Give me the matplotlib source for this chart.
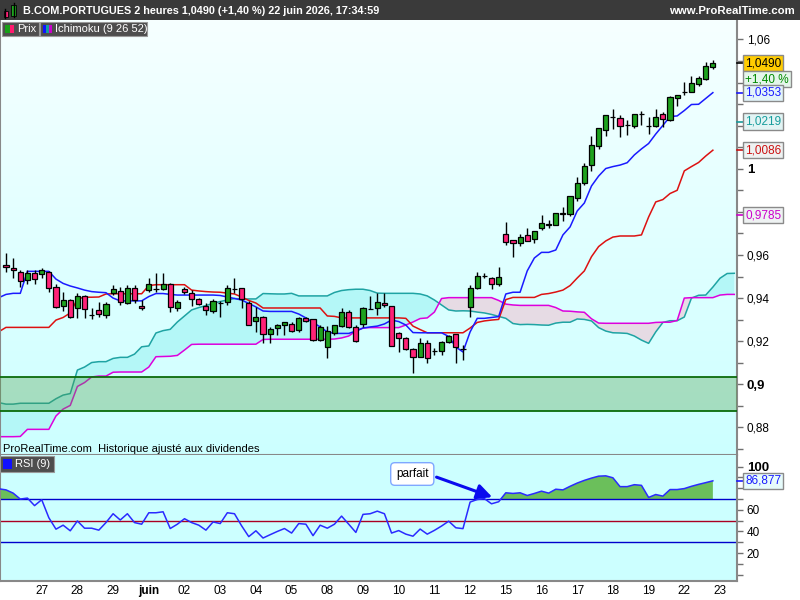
import numpy as np
import matplotlib
matplotlib.use("Agg")
import matplotlib.pyplot as plt
from matplotlib.patches import Rectangle
from matplotlib.lines import Line2D
import matplotlib.transforms as mtrans
from matplotlib.ticker import FixedLocator, FixedFormatter

plt.rcParams['font.family'] = ['Liberation Sans', 'DejaVu Sans']

# ---------------- data ----------------
title = "B.COM.PORTUGUES 2 heures 1,0490 (+1,40 %) 22 juin 2026, 17:34:59"
site = "www.ProRealTime.com"
footer = "ProRealTime.com  Historique ajusté aux dividendes"

day_labels = ['27', '28', '29', 'juin', '02', '03', '04', '05', '08', '09',
              '10', '11', '12', '15', '16', '17', '18', '19', '22', '23']
day_first_candle = [5, 10, 15, 20, 25, 30, 35, 40, 45, 50,
                    55, 60, 65, 70, 75, 80, 85, 90, 95, 100]

opens = [0.9553, 0.9538, 0.9522, 0.9484, 0.9518, 0.9510, 0.9522, 0.9453, 0.9365, 0.9391,
         0.9352, 0.9411, 0.9322, 0.9345, 0.9321, 0.9425, 0.9434, 0.9378, 0.9445, 0.9365,
         0.9437, 0.9441, 0.9441, 0.9464, 0.9352, 0.9442, 0.9422, 0.9394, 0.9365, 0.9341,
         0.9376, 0.9380, 0.9442, 0.9445, 0.9376, 0.9295, 0.9314, 0.9233, 0.9262, 0.9274,
         0.9278, 0.9252, 0.9306, 0.9301, 0.9205, 0.9172, 0.9236, 0.9272, 0.9334, 0.9267,
         0.9278, 0.9349, 0.9352, 0.9376, 0.9363, 0.9236, 0.9213, 0.9162, 0.9128, 0.9190,
         0.9155, 0.9156, 0.9195, 0.9233, 0.9163, 0.9360, 0.9445, 0.9501, 0.9494, 0.9464,
         0.9696, 0.9669, 0.9654, 0.9693, 0.9673, 0.9724, 0.9741, 0.9739, 0.9792, 0.9789,
         0.9863, 0.9932, 1.0017, 1.0107, 1.0180, 1.0240, 1.0237, 1.0202, 1.0198, 1.0252,
         1.0197, 1.0198, 1.0253, 1.0226, 1.0327, 1.0357, 1.0358, 1.0392, 1.0415, 1.0474]
highs = [0.9609, 0.9587, 0.9530, 0.9530, 0.9530, 0.9539, 0.9526, 0.9465, 0.9430, 0.9396,
         0.9425, 0.9414, 0.9355, 0.9382, 0.9383, 0.9461, 0.9453, 0.9461, 0.9461, 0.9391,
         0.9492, 0.9515, 0.9518, 0.9468, 0.9391, 0.9453, 0.9437, 0.9400, 0.9376, 0.9394,
         0.9386, 0.9461, 0.9492, 0.9446, 0.9388, 0.9360, 0.9317, 0.9267, 0.9280, 0.9291,
         0.9290, 0.9314, 0.9314, 0.9302, 0.9275, 0.9270, 0.9276, 0.9352, 0.9345, 0.9275,
         0.9360, 0.9410, 0.9422, 0.9422, 0.9364, 0.9244, 0.9221, 0.9167, 0.9213, 0.9205,
         0.9170, 0.9201, 0.9229, 0.9234, 0.9182, 0.9461, 0.9522, 0.9515, 0.9499, 0.9543,
         0.9754, 0.9669, 0.9697, 0.9724, 0.9712, 0.9785, 0.9762, 0.9794, 0.9824, 0.9875,
         0.9963, 1.0025, 1.0152, 1.0189, 1.0250, 1.0276, 1.0249, 1.0226, 1.0254, 1.0268,
         1.0241, 1.0276, 1.0265, 1.0338, 1.0343, 1.0404, 1.0430, 1.0432, 1.0497, 1.0505]
lows = [0.9521, 0.9494, 0.9453, 0.9464, 0.9465, 0.9493, 0.9430, 0.9354, 0.9340, 0.9307,
        0.9309, 0.9306, 0.9303, 0.9314, 0.9309, 0.9414, 0.9368, 0.9371, 0.9376, 0.9345,
        0.9430, 0.9430, 0.9437, 0.9337, 0.9340, 0.9417, 0.9365, 0.9368, 0.9321, 0.9332,
        0.9311, 0.9368, 0.9422, 0.9352, 0.9274, 0.9244, 0.9190, 0.9190, 0.9229, 0.9229,
        0.9244, 0.9244, 0.9290, 0.9203, 0.9203, 0.9121, 0.9229, 0.9267, 0.9260, 0.9198,
        0.9267, 0.9348, 0.9321, 0.9357, 0.9178, 0.9151, 0.9159, 0.9054, 0.9128, 0.9097,
        0.9136, 0.9136, 0.9190, 0.9100, 0.9113, 0.9314, 0.9441, 0.9492, 0.9441, 0.9456,
        0.9646, 0.9589, 0.9643, 0.9666, 0.9657, 0.9716, 0.9724, 0.9738, 0.9759, 0.9782,
        0.9852, 0.9925, 0.9991, 1.0090, 1.0153, 1.0184, 1.0149, 1.0157, 1.0190, 1.0203,
        1.0161, 1.0195, 1.0195, 1.0223, 1.0291, 1.0342, 1.0355, 1.0385, 1.0412, 1.0463]
closes = [0.9544, 0.9529, 0.9479, 0.9518, 0.9487, 0.9530, 0.9448, 0.9360, 0.9391, 0.9314,
          0.9411, 0.9349, 0.9321, 0.9325, 0.9371, 0.9441, 0.9383, 0.9448, 0.9391, 0.9352,
          0.9464, 0.9440, 0.9464, 0.9359, 0.9380, 0.9427, 0.9394, 0.9371, 0.9345, 0.9388,
          0.9375, 0.9445, 0.9441, 0.9394, 0.9275, 0.9314, 0.9233, 0.9255, 0.9274, 0.9290,
          0.9249, 0.9306, 0.9295, 0.9205, 0.9267, 0.9249, 0.9275, 0.9334, 0.9267, 0.9201,
          0.9352, 0.9350, 0.9380, 0.9366, 0.9179, 0.9213, 0.9162, 0.9128, 0.9190, 0.9123,
          0.9156, 0.9195, 0.9224, 0.9172, 0.9164, 0.9445, 0.9502, 0.9502, 0.9464, 0.9496,
          0.9659, 0.9654, 0.9685, 0.9666, 0.9711, 0.9747, 0.9742, 0.9793, 0.9793, 0.9874,
          0.9932, 1.0014, 1.0110, 1.0188, 1.0249, 1.0241, 1.0198, 1.0203, 1.0253, 1.0253,
          1.0198, 1.0239, 1.0229, 1.0332, 1.0342, 1.0358, 1.0396, 1.0420, 1.0477, 1.0490]

# Ichimoku lines, first value is one period before the first candle
tenkan = [0.9402, 0.9417, 0.9422, 0.9422, 0.9524, 0.9524, 0.9524, 0.9524, 0.9488, 0.9468,
          0.9456, 0.9447, 0.9437, 0.9430, 0.9427, 0.9425, 0.9400, 0.9387, 0.9387, 0.9387,
          0.9387, 0.9407, 0.9421, 0.9421, 0.9417, 0.9414, 0.9414, 0.9414, 0.9414, 0.9414,
          0.9414, 0.9412, 0.9405, 0.9398, 0.9391, 0.9375, 0.9359, 0.9340, 0.9338, 0.9338,
          0.9338, 0.9338, 0.9326, 0.9308, 0.9287, 0.9266, 0.9243, 0.9236, 0.9236, 0.9236,
          0.9247, 0.9261, 0.9266, 0.9270, 0.9280, 0.9298, 0.9291, 0.9275, 0.9240, 0.9239,
          0.9239, 0.9239, 0.9239, 0.9222, 0.9173, 0.9150, 0.9243, 0.9306, 0.9306, 0.9310,
          0.9314, 0.9419, 0.9427, 0.9427, 0.9526, 0.9586, 0.9612, 0.9612, 0.9623, 0.9693,
          0.9730, 0.9804, 0.9841, 0.9920, 0.9966, 1.0001, 1.0010, 1.0017, 1.0028, 1.0064,
          1.0092, 1.0117, 1.0161, 1.0201, 1.0242, 1.0245, 1.0270, 1.0298, 1.0299, 1.0326,
          1.0353]
kijun = [0.9244, 0.9264, 0.9264, 0.9264, 0.9264, 0.9264, 0.9264, 0.9264, 0.9298, 0.9310,
         0.9331, 0.9396, 0.9404, 0.9404, 0.9405, 0.9419, 0.9420, 0.9420, 0.9420, 0.9420,
         0.9420, 0.9458, 0.9462, 0.9462, 0.9462, 0.9462, 0.9462, 0.9437, 0.9433, 0.9430,
         0.9428, 0.9427, 0.9423, 0.9419, 0.9405, 0.9389, 0.9377, 0.9354, 0.9354, 0.9354,
         0.9354, 0.9354, 0.9354, 0.9354, 0.9354, 0.9354, 0.9317, 0.9315, 0.9308, 0.9308,
         0.9308, 0.9308, 0.9308, 0.9308, 0.9308, 0.9308, 0.9308, 0.9306, 0.9270, 0.9254,
         0.9239, 0.9239, 0.9239, 0.9239, 0.9239, 0.9239, 0.9261, 0.9287, 0.9294, 0.9298,
         0.9301, 0.9393, 0.9403, 0.9403, 0.9403, 0.9403, 0.9417, 0.9421, 0.9428, 0.9437,
         0.9458, 0.9493, 0.9526, 0.9592, 0.9639, 0.9665, 0.9683, 0.9688, 0.9688, 0.9688,
         0.9693, 0.9776, 0.9846, 0.9857, 0.9885, 0.9900, 0.9990, 1.0010, 1.0029, 1.0059,
         1.0086]
# Senkou spans (already shifted forward), first value one period before the first candle
senkou_a = [0.8915, 0.8908, 0.8908, 0.8912, 0.8912, 0.8912, 0.8912, 0.8912, 0.8933, 0.8950,
            0.8957, 0.9066, 0.9080, 0.9101, 0.9105, 0.9105, 0.9120, 0.9125, 0.9125, 0.9140,
            0.9174, 0.9178, 0.9238, 0.9249, 0.9255, 0.9289, 0.9317, 0.9345, 0.9356, 0.9365,
            0.9376, 0.9384, 0.9391, 0.9398, 0.9396, 0.9396, 0.9396, 0.9421, 0.9420, 0.9419,
            0.9419, 0.9422, 0.9410, 0.9410, 0.9410, 0.9410, 0.9410, 0.9426, 0.9435, 0.9439,
            0.9441, 0.9441, 0.9435, 0.9423, 0.9422, 0.9422, 0.9422, 0.9422, 0.9422, 0.9419,
            0.9410, 0.9391, 0.9368, 0.9345, 0.9340, 0.9341, 0.9340, 0.9335, 0.9331, 0.9324,
            0.9315, 0.9306, 0.9282, 0.9277, 0.9278, 0.9277, 0.9275, 0.9274, 0.9284, 0.9288,
            0.9288, 0.9303, 0.9301, 0.9294, 0.9263, 0.9247, 0.9239, 0.9238, 0.9236, 0.9224,
            0.9205, 0.9190, 0.9243, 0.9287, 0.9295, 0.9295, 0.9312, 0.9400, 0.9413, 0.9414,
            0.9451, 0.9492, 0.9514, 0.9515]
senkou_b = [0.8757, 0.8757, 0.8757, 0.8758, 0.8791, 0.8791, 0.8791, 0.8791, 0.8853, 0.8885,
            0.8902, 0.8990, 0.9008, 0.9034, 0.9038, 0.9038, 0.9056, 0.9057, 0.9057, 0.9057,
            0.9057, 0.9080, 0.9128, 0.9129, 0.9130, 0.9134, 0.9159, 0.9185, 0.9186, 0.9186,
            0.9186, 0.9186, 0.9186, 0.9186, 0.9186, 0.9186, 0.9186, 0.9208, 0.9209, 0.9209,
            0.9209, 0.9209, 0.9209, 0.9209, 0.9209, 0.9209, 0.9209, 0.9210, 0.9215, 0.9224,
            0.9247, 0.9261, 0.9263, 0.9263, 0.9263, 0.9263, 0.9263, 0.9275, 0.9289, 0.9305,
            0.9308, 0.9335, 0.9398, 0.9402, 0.9402, 0.9402, 0.9402, 0.9402, 0.9402, 0.9402,
            0.9389, 0.9372, 0.9368, 0.9366, 0.9366, 0.9366, 0.9366, 0.9366, 0.9356, 0.9340,
            0.9339, 0.9336, 0.9334, 0.9304, 0.9284, 0.9283, 0.9283, 0.9283, 0.9283, 0.9283,
            0.9283, 0.9283, 0.9287, 0.9288, 0.9288, 0.9296, 0.9400, 0.9402, 0.9402, 0.9402,
            0.9402, 0.9414, 0.9417, 0.9417]
# RSI(9), first value one period before the first candle
rsi = [79.5, 78.5, 75.5, 70.0, 70.9, 63.9, 69.4, 52.7, 42.1, 45.8,
       40.6, 49.7, 43.0, 43.0, 41.2, 48.2, 56.4, 50.6, 56.4, 48.2,
       46.7, 57.3, 57.3, 58.2, 42.7, 46.7, 51.8, 48.2, 45.8, 41.2,
       48.8, 47.3, 57.3, 56.4, 45.2, 35.2, 40.6, 33.9, 37.0, 40.0,
       42.7, 38.5, 47.3, 46.7, 36.1, 45.8, 43.0, 46.7, 54.2, 46.7,
       39.1, 55.8, 56.4, 58.8, 56.4, 38.5, 40.8, 37.5, 35.6, 42.2,
       37.5, 41.0, 45.0, 49.5, 43.4, 42.6, 67.2, 69.6, 70.4, 65.6,
       67.5, 75.8, 75.2, 75.8, 73.3, 75.2, 77.3, 75.5, 79.1, 78.5,
       81.8, 84.8, 87.3, 89.4, 91.2, 91.5, 89.7, 81.5, 81.5, 83.3,
       82.7, 71.5, 74.2, 72.7, 78.8, 78.8, 79.7, 81.8, 83.6, 85.2,
       86.877]

band_low, band_high = 0.8875, 0.9032
last_price = 1.0490
last_change = "+1,40 %"
tenkan_last, senkou_a_last, kijun_last, senkou_b_last = 1.0353, 1.0219, 1.0086, 0.9785
rsi_last = 86.877
rsi_levels = (70, 50, 30)

# labels hidden behind the value boxes are left empty
price_ticks = [0.88, 0.90, 0.92, 0.94, 0.96, 0.98, 1.00, 1.02, 1.04, 1.06]
price_tick_labels = ['0,88', '0,9', '0,92', '0,94', '0,96', '', '1', '', '', '1,06']
price_minor = [0.87, 0.89, 0.91, 0.93, 0.95, 0.97, 0.99, 1.01, 1.03, 1.05]
rsi_ticks = [20, 40, 60, 80, 100]
rsi_tick_labels = ['20', '40', '60', '', '100']
rsi_minor = [0, 10, 30, 50, 70, 90]

# ---------------- figure ----------------
W, H = 800, 600
fig = plt.figure(figsize=(8, 6), dpi=100, facecolor='white')


def fx(px):
    return px / W


def fy(py):
    return 1 - py / H


ax = fig.add_axes([0, fy(455), fx(737), (455 - 20) / H])
ax2 = fig.add_axes([0, fy(581), fx(737), (581 - 455) / H])

XMIN, XMAX = -0.84, 102.38

# backgrounds
g = np.linspace(0, 1, 256)[:, None]
top = np.array([0.965, 1.0, 1.0])
bot = np.array([0.80, 1.0, 1.0])
img = (top[None, None, :] * (1 - g[:, :, None]) + bot[None, None, :] * g[:, :, None])
ax.imshow(img, extent=[0, 1, 0, 1], transform=ax.transAxes, aspect='auto',
          zorder=0, interpolation='bilinear')
ax2.set_facecolor('#ccffff')

# cloud
xc = np.arange(len(senkou_a)) - 1
A = np.array(senkou_a)
B = np.array(senkou_b)
ax.fill_between(xc, A, B, where=A >= B, interpolate=True, color='#b4f7f7', lw=0, zorder=1)
ax.fill_between(xc, A, B, where=A < B, interpolate=True, color='#e6dbe4', lw=0, zorder=1)
ax.plot(xc, A, color='#1fa3a3', lw=1.1, zorder=2)
ax.plot(xc, B, color='#dd00dd', lw=1.1, zorder=2)

xl = np.arange(len(tenkan)) - 1
ax.plot(xl, kijun, color='#dd1111', lw=1.1, zorder=2)
ax.plot(xl, tenkan, color='#1a1aff', lw=1.1, zorder=2)

# horizontal zone
ax.axhspan(band_low, band_high, fc=(84 / 255, 158 / 255, 75 / 255, 0.35), ec='none', zorder=3)
ax.axhline(band_high, color='#0b6b0b', lw=1.3, zorder=3)
ax.axhline(band_low, color='#0b6b0b', lw=1.3, zorder=3)

# candles
bw = 0.72
for i, (o, h, l, c) in enumerate(zip(opens, highs, lows, closes)):
    ax.vlines(i, l, h, color='black', lw=1, zorder=5)
    col = '#1ea31e' if c >= o else '#ff2277'
    bottom = min(o, c)
    height = max(abs(c - o), 0.00006)
    ax.add_patch(Rectangle((i - bw / 2, bottom), bw, height, fc=col, ec='black',
                           lw=0.9, zorder=6))

ax.set_xlim(XMIN, XMAX)
ax.set_ylim(0.8672, 1.0690)

# price axis
ax.yaxis.tick_right()
ax.yaxis.set_major_locator(FixedLocator(price_ticks))
ax.yaxis.set_major_formatter(FixedFormatter(price_tick_labels))
ax.yaxis.set_minor_locator(FixedLocator(price_minor))
ax.tick_params(axis='y', which='both', direction='out', length=4, width=1,
               color='#707070', labelsize=8.5, pad=3)
ax.tick_params(axis='x', bottom=False, labelbottom=False)
for lab in ax.get_yticklabels():
    if lab.get_text() in ('1', '0,9'):
        lab.set_fontweight('bold')
        lab.set_fontsize(9.5)
ax.spines['top'].set_visible(False)
for s in ('left', 'right', 'bottom'):
    ax.spines[s].set_color('#888888')
    ax.spines[s].set_linewidth(1.5)

# RSI panel
xr = np.arange(len(rsi)) - 1
R = np.array(rsi)
ax2.fill_between(xr, R, rsi_levels[0], where=R >= rsi_levels[0], interpolate=True,
                 color='#6bbf5b', lw=0, zorder=1)
ax2.axhline(rsi_levels[0], color='#0000cc', lw=1, zorder=2)
ax2.axhline(rsi_levels[1], color='#aa0022', lw=1, zorder=2)
ax2.axhline(rsi_levels[2], color='#0000cc', lw=1, zorder=2)
ax2.plot(xr, R, color='#2a2aff', lw=1.1, zorder=3)
ax2.set_xlim(XMIN, XMAX)
ax2.set_ylim(-5.9, 110.8)
ax2.yaxis.tick_right()
ax2.yaxis.set_major_locator(FixedLocator(rsi_ticks))
ax2.yaxis.set_major_formatter(FixedFormatter(rsi_tick_labels))
ax2.yaxis.set_minor_locator(FixedLocator(rsi_minor))
ax2.tick_params(axis='y', which='both', direction='out', length=4, width=1,
                color='#707070', labelsize=8.5, pad=3)
for lab in ax2.get_yticklabels():
    if lab.get_text() == '100':
        lab.set_fontweight('bold')
        lab.set_fontsize(9.5)
ax2.set_xticks(day_first_candle)
ax2.set_xticklabels(day_labels)
ax2.tick_params(axis='x', length=0, labelsize=8.5, pad=3)
for lab in ax2.get_xticklabels():
    if lab.get_text() == 'juin':
        lab.set_fontweight('bold')
ax2.spines['top'].set_visible(False)
for s in ('left', 'right', 'bottom'):
    ax2.spines[s].set_color('#888888')
    ax2.spines[s].set_linewidth(1.5)

# annotation
ax2.text(56.9, 93.2, 'parfait', fontsize=8.5, ha='center', va='center', zorder=6,
         bbox=dict(boxstyle='round,pad=0.45,rounding_size=0.35', fc='white',
                   ec='#7fa8ff', lw=1))
ax2.annotate('', xy=(68.1, 71.8), xytext=(60.3, 90.3),
             arrowprops=dict(arrowstyle='-|>,head_length=0.9,head_width=0.45',
                             color='#0a0aee', lw=2.2, shrinkA=0, shrinkB=0),
             zorder=6)


# value boxes on the right axis
def value_box(axis, yval, text, tcolor, fcolor, dy=0.0, lead=True):
    trans = mtrans.blended_transform_factory(fig.transFigure, axis.transData)
    if lead:
        axis.add_line(Line2D([fx(737), fx(743)], [yval, yval], transform=trans,
                             color=tcolor, lw=1.2, clip_on=False, zorder=9))
    axis.annotate(text, xy=(fx(745), yval), xycoords=trans, xytext=(0, dy),
                  textcoords='offset points', ha='left', va='center', fontsize=8.5,
                  color=tcolor, annotation_clip=False, zorder=10,
                  bbox=dict(boxstyle='square,pad=0.18', fc=fcolor, ec='#8a8a8a', lw=1))


value_box(ax, last_price, '1,0490', 'black', '#ffcc00')
value_box(ax, last_price, last_change, '#008a00', '#e4f6ea', dy=-11.6, lead=False)
value_box(ax, tenkan_last, '1,0353', '#1a1aff', '#e2f4fa')
value_box(ax, senkou_a_last, '1,0219', '#169c9c', '#e2f4f4')
value_box(ax, kijun_last, '1,0086', '#cc1111', '#eef2f2')
value_box(ax, senkou_b_last, '0,9785', '#cc00cc', '#eef2f2')
value_box(ax2, rsi_last, '86,877', '#1a1aff', '#e6fbfb')

# header bar
fig.patches.append(Rectangle((0, fy(20)), 1, 20 / H, transform=fig.transFigure,
                             fc='#3a3a3a', ec='none', zorder=0))
fig.text(fx(23), fy(10.5), title, color='white', fontsize=7.8, fontweight='bold',
         va='center', ha='left')
fig.text(fx(795), fy(10.5), site, color='white', fontsize=8.2, fontweight='bold',
         va='center', ha='right')
# small candle icon
fig.lines.append(Line2D([fx(5.3), fx(5.3)], [fy(9), fy(18)], transform=fig.transFigure,
                        color='black', lw=1))
fig.patches.append(Rectangle((fx(3.5), fy(17)), fx(4), 6 / H, transform=fig.transFigure,
                             fc='#ff2277', ec='black', lw=0.6))
fig.lines.append(Line2D([fx(13.5), fx(13.5)], [fy(3), fy(17)], transform=fig.transFigure,
                        color='black', lw=1))
fig.patches.append(Rectangle((fx(11.3), fy(16)), fx(4.5), 11 / H, transform=fig.transFigure,
                             fc='#1ea31e', ec='black', lw=0.6))


def legend_box(x0, y0, x1, y1, colors, label):
    fig.patches.append(Rectangle((fx(x0), fy(y1)), fx(x1 - x0), (y1 - y0) / H,
                                 transform=fig.transFigure, fc='#4e4e4e',
                                 ec='#9a9a9a', lw=0.8, zorder=20))
    n = len(colors)
    sw = 9.0 / n if n > 1 else 9.0
    for k, c in enumerate(colors):
        fig.patches.append(Rectangle((fx(x0 + 3 + k * sw), fy(y1 - 3)), fx(sw),
                                     (y1 - y0 - 6) / H, transform=fig.transFigure,
                                     fc=c, ec='none', zorder=21))
    fig.text(fx(x0 + 15), fy((y0 + y1) / 2), label, color='white', fontsize=8,
             va='center', ha='left', zorder=22)


legend_box(2, 21.5, 39, 35.5, ['#18a018', '#ff1a6e'], 'Prix')
legend_box(40, 21.5, 147, 35.5, ['#1010ff', '#12a0a0', '#cc00cc'], 'Ichimoku (9 26 52)')
legend_box(0, 456, 54, 472, ['#1010ff'], 'RSI (9)')

fig.text(fx(3), fy(449), footer, color='black', fontsize=8, va='center', ha='left')

fig.savefig('out.png', dpi=100, facecolor='white')
